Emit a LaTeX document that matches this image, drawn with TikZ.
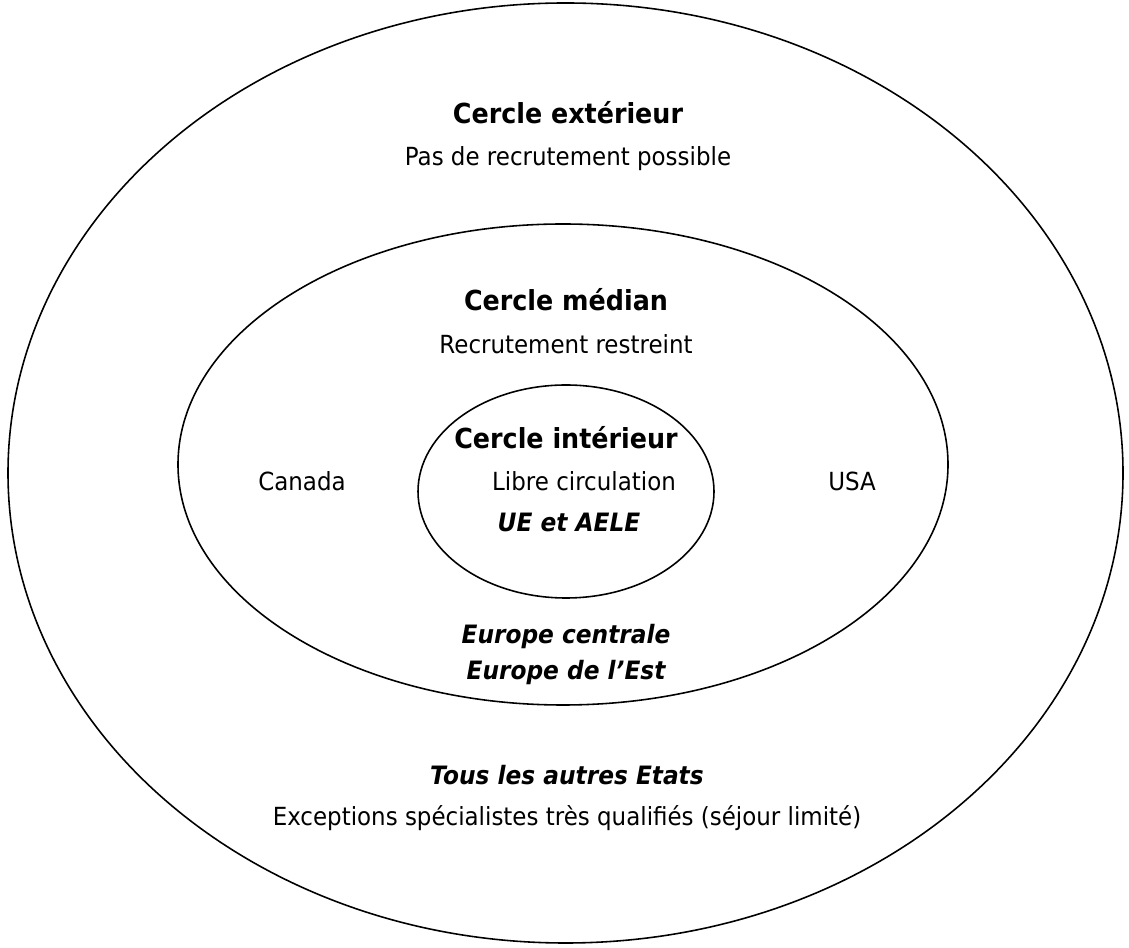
\documentclass[tikz,border=0pt]{standalone}
\usepackage{fontspec}
\setmainfont{DejaVu Sans}[FakeStretch=0.92]
\usepackage{tikz}
\usetikzlibrary{shapes.geometric, positioning}

\begin{document}
\begin{tikzpicture}[
    ring/.style={ellipse, draw, line width=0.9pt, inner sep=0pt},
    title/.style={anchor=base, font=\fontsize{15.7}{19}\selectfont\bfseries},
    note/.style={anchor=base, font=\fontsize{14.2}{17}\selectfont},
    region/.style={anchor=base, font=\fontsize{14.4}{17}\selectfont\bfseries\itshape},
]
    \useasboundingbox (0,0) rectangle (22.58,18.94);

    % Circles
    \node[ring, minimum width=22.30cm, minimum height=18.80cm] (outer) at (11.31,9.48) {};
    \node[ring, minimum width=15.40cm, minimum height=9.62cm] (median) at (11.26,9.65) {};
    \node[ring, minimum width=5.92cm, minimum height=4.26cm] (inner) at (11.32,9.11) {};

    % Outer circle
    \node[title] (outtitle) at (11.36,16.46) {Cercle extérieur};
    \node[note] (outnote) at (11.36,15.62) {Pas de recrutement possible};
    \node[region] (others) at (11.34,3.24) {Tous les autres Etats};
    \node[note] (othersnote) at (11.34,2.42) {Exceptions spécialistes très qualifiés (séjour limité)};

    % Median circle
    \node[title] (medtitle) at (11.32,12.72) {Cercle médian};
    \node[note] (mednote) at (11.32,11.86) {Recrutement restreint};
    \node[note] (canada) at (6.04,9.12) {Canada};
    \node[note] (usa) at (17.04,9.12) {USA};
    \node[region] (central) at (11.32,6.06) {Europe centrale};
    \node[region] (east) at (11.32,5.34) {Europe de l’Est};

    % Inner circle
    \node[title] (intitle) at (11.32,9.96) {Cercle intérieur};
    \node[note] (innote) at (11.68,9.12) {Libre circulation};
    \node[region] (ue) at (11.38,8.30) {UE et AELE};
\end{tikzpicture}
\end{document}
